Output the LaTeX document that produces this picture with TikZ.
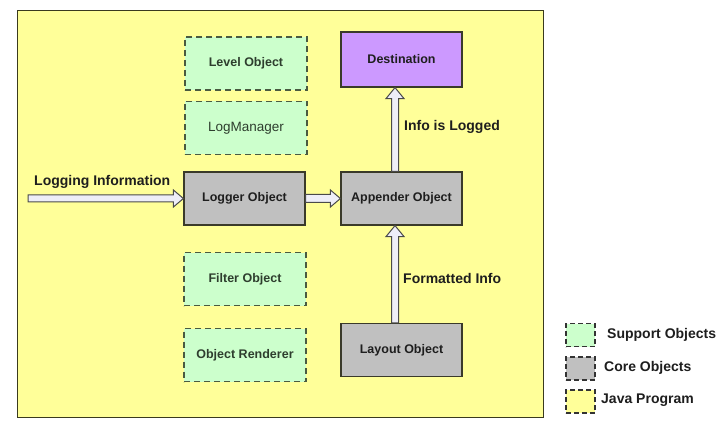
\documentclass[tikz,border=0pt]{standalone}
\usepackage{fontspec}
\setmainfont{Liberation Sans}
\usetikzlibrary{calc}
\definecolor{javay}{HTML}{FFFF99}
\definecolor{javab}{HTML}{3A3A1E}
\definecolor{suppg}{HTML}{CCFFCC}
\definecolor{suppb}{HTML}{4A5A40}
\definecolor{coreg}{HTML}{C0C0C0}
\definecolor{coreb}{HTML}{3A3A2A}
\definecolor{destp}{HTML}{CC99FF}
\definecolor{arrf}{HTML}{EEEEF8}
\definecolor{arrb}{HTML}{4A4A4A}
\definecolor{txt}{HTML}{1E1E1E}
\definecolor{txtg}{HTML}{2E3E2E}
\begin{document}
\begin{tikzpicture}[x=1pt,y=-1pt,
  boxfont/.style={font=\fontsize{12.5}{14}\selectfont\bfseries},
  supp/.style={draw=suppb, fill=suppg, dash pattern=on 6pt off 4pt, line width=1.4pt,
    minimum width=122pt, minimum height=53pt, inner sep=0pt, boxfont, text=txtg},
  core/.style={draw=coreb, fill=coreg, line width=1.2pt,
    minimum width=121pt, minimum height=53pt, inner sep=0pt, boxfont, text=txt},
  dest/.style={core, fill=destp, minimum height=55pt},
  lbl/.style={inner sep=0pt, anchor=west, text=txt, font=\fontsize{14}{16}\selectfont\bfseries},
  legtxt/.style={inner sep=0pt, anchor=west, text=txt, font=\fontsize{14}{16}\selectfont\bfseries},
  legbox/.style={draw=black!80, dash pattern=on 5pt off 3pt, line width=1.2pt,
    minimum width=29pt, minimum height=23pt, inner sep=0pt},
  blockar/.style={draw=arrb, fill=arrf, line width=1pt, line join=miter}
]
\useasboundingbox (0,0) rectangle (727,438);
\fill[white] (0,0) rectangle (727,438);

% program container
\node[draw=javab, fill=javay, line width=1.4pt, minimum width=526pt, minimum height=407pt,
      inner sep=0pt, anchor=north west] (prog) at (17,10) {};

% support objects
\node[supp] (level) at (246,63.5) {Level Object};
\node[supp, font=\fontsize{13.5}{15}\selectfont] (logman) at (246,128) {LogManager};
\node[supp] (filter) at (245,279) {Filter Object};
\node[supp] (render) at (245,355) {Object Renderer};

% core objects
\node[core] (logger) at (244.5,198.5) {Logger Object};
\node[core] (app) at (401.5,198.5) {Appender Object};
\node[core] (layout) at (401.5,350) {Layout Object};
\node[dest] (dest) at (401.5,59.5) {Destination};

% free end of incoming arrow
\coordinate (in) at (28,198.5);

% Logging Information arrow
\draw[blockar] ($(in)+(0pt,3.5pt)$) -- ($(logger.west)+(-10pt,3.5pt)$) -- ($(logger.west)+(-10pt,8.5pt)$)
  -- (logger.west) -- ($(logger.west)+(-10pt,-8.5pt)$) -- ($(logger.west)+(-10pt,-3.5pt)$)
  -- ($(in)+(0pt,-3.5pt)$) -- cycle;

% Logger -> Appender
\draw[blockar] ($(logger.east)+(0pt,4pt)$) -- ($(app.west)+(-10pt,4pt)$) -- ($(app.west)+(-10pt,8.5pt)$)
  -- (app.west) -- ($(app.west)+(-10pt,-8.5pt)$) -- ($(app.west)+(-10pt,-4pt)$)
  -- ($(logger.east)+(0pt,-4pt)$) -- cycle;

% Appender -> Destination
\coordinate (a1) at ($(app.north)+(-6.5pt,0pt)$);
\coordinate (b1) at ($(dest.south)+(-6.5pt,0pt)$);
\draw[blockar] ($(a1)+(-3.5pt,0pt)$) -- ($(b1)+(-3.5pt,-11pt)$) -- ($(b1)+(-9pt,-11pt)$)
  -- (b1) -- ($(b1)+(9pt,-11pt)$) -- ($(b1)+(3.5pt,-11pt)$) -- ($(a1)+(3.5pt,0pt)$) -- cycle;

% Layout -> Appender
\coordinate (a2) at ($(layout.north)+(-6.5pt,0pt)$);
\coordinate (b2) at ($(app.south)+(-6.5pt,0pt)$);
\draw[blockar] ($(a2)+(-3.5pt,0pt)$) -- ($(b2)+(-3.5pt,-11pt)$) -- ($(b2)+(-9pt,-11pt)$)
  -- (b2) -- ($(b2)+(9pt,-11pt)$) -- ($(b2)+(3.5pt,-11pt)$) -- ($(a2)+(3.5pt,0pt)$) -- cycle;

% labels
\node[lbl] (lloginfo) at (34,182) {Logging Information};
\node[lbl] (linfolog) at (404,127) {Info is Logged};
\node[lbl] (lfmt) at (403,278) {Formatted Info};

% legend
\node[legbox, fill=suppg] (leg1) at (580.5,335) {};
\node[legbox, fill=coreg] (leg2) at (580.5,368.5) {};
\node[legbox, fill=javay] (leg3) at (580.5,401.5) {};
\node[legtxt] (legt1) at (607,335) {Support Objects};
\node[legtxt] (legt2) at (604,368) {Core Objects};
\node[legtxt] (legt3) at (601,400) {Java Program};
\end{tikzpicture}
\end{document}
